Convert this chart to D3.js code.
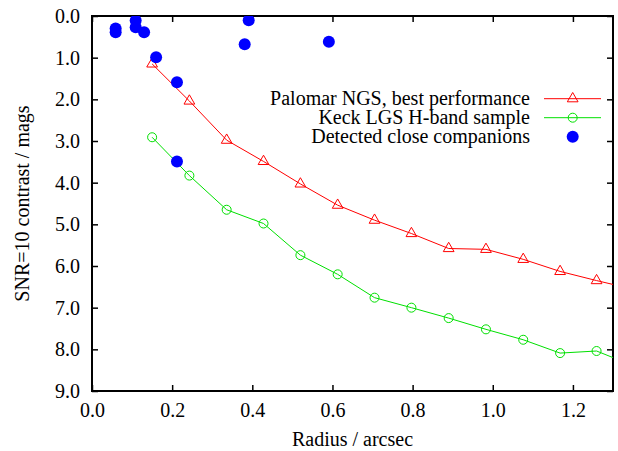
<!DOCTYPE html>
<html>
<head>
<meta charset="utf-8">
<script src="https://cdn.jsdelivr.net/npm/d3@7"></script>
<style>
  body { margin: 0; background: #fff; }
  text { font-family: 'Liberation Serif', 'Times New Roman', serif; fill: #000; }
</style>
</head>
<body>
<div id="chart"></div>
<script>
// Palomar NGS, best performance
const palomarRadius = [0.150, 0.243, 0.336, 0.428, 0.520, 0.613, 0.705, 0.797, 0.890, 0.983, 1.076, 1.168, 1.259, 1.352];
const palomarContrast = [1.15, 2.04, 2.98, 3.49, 4.03, 4.54, 4.90, 5.22, 5.58, 5.60, 5.84, 6.13, 6.35, 6.56];

// Keck LGS H-band sample
const keckRadius = [0.150, 0.243, 0.336, 0.428, 0.520, 0.613, 0.705, 0.797, 0.890, 0.983, 1.076, 1.168, 1.259, 1.352];
const keckContrast = [2.91, 3.83, 4.65, 4.98, 5.74, 6.20, 6.76, 7.00, 7.25, 7.52, 7.77, 8.09, 8.04, 8.40];

// Detected close companions
const compRadius = [0.059, 0.059, 0.109, 0.109, 0.130, 0.160, 0.212, 0.212, 0.381, 0.391, 0.591];
const compContrast = [0.30, 0.39, 0.11, 0.27, 0.39, 0.99, 1.59, 3.49, 0.68, 0.10, 0.62];

const xTicks = [0.0, 0.2, 0.4, 0.6, 0.8, 1.0, 1.2];
const yTicks = [0, 1, 2, 3, 4, 5, 6, 7, 8, 9];

const width = 618, height = 451;
const margin = { left: 92, right: 5, top: 16, bottom: 60 };

const x = d3.scaleLinear().domain([0, 1.3]).range([margin.left, width - margin.right]);
const y = d3.scaleLinear().domain([0, 9]).range([margin.top, height - margin.bottom]);

const svg = d3.select('#chart').append('svg')
  .attr('width', width)
  .attr('height', height);

svg.append('defs').append('clipPath').attr('id', 'clip')
  .append('rect')
  .attr('x', x(0)).attr('y', y(0))
  .attr('width', x(1.3) - x(0)).attr('height', y(9) - y(0));

const fontSize = 20;

// axes
svg.append('g')
  .attr('transform', `translate(0,${y(9)})`)
  .call(d3.axisBottom(x).tickValues(xTicks).tickFormat(d3.format('.1f')).tickSizeInner(-6).tickSizeOuter(0).tickPadding(12))
  .call(g => g.select('.domain').remove())
  .call(g => g.selectAll('line').attr('stroke-width', 1.5))
  .call(g => g.selectAll('text').attr('font-size', fontSize).style('font-family', 'Liberation Serif'));

svg.append('g')
  .attr('transform', `translate(0,${y(0)})`)
  .call(d3.axisTop(x).tickValues(xTicks).tickFormat('').tickSizeInner(-6).tickSizeOuter(0))
  .call(g => g.select('.domain').remove())
  .call(g => g.selectAll('line').attr('stroke-width', 1.5));

svg.append('g')
  .attr('transform', `translate(${x(0)},0)`)
  .call(d3.axisLeft(y).tickValues(yTicks).tickFormat(d3.format('.1f')).tickSizeInner(-6).tickSizeOuter(0).tickPadding(12))
  .call(g => g.select('.domain').remove())
  .call(g => g.selectAll('line').attr('stroke-width', 1.5))
  .call(g => g.selectAll('text').attr('font-size', fontSize).style('font-family', 'Liberation Serif'));

svg.append('g')
  .attr('transform', `translate(${x(1.3)},0)`)
  .call(d3.axisRight(y).tickValues(yTicks).tickFormat('').tickSizeInner(-6).tickSizeOuter(0))
  .call(g => g.select('.domain').remove())
  .call(g => g.selectAll('line').attr('stroke-width', 1.5));

svg.append('rect')
  .attr('x', x(0)).attr('y', y(0))
  .attr('width', x(1.3) - x(0)).attr('height', y(9) - y(0))
  .attr('fill', 'none')
  .attr('stroke', '#000')
  .attr('stroke-width', 2);

// axis labels
svg.append('text')
  .attr('x', (x(0) + x(1.3)) / 2)
  .attr('y', 446)
  .attr('text-anchor', 'middle')
  .attr('font-size', fontSize)
  .text('Radius / arcsec');

svg.append('text')
  .attr('transform', `translate(29,${(y(0) + y(9)) / 2}) rotate(-90)`)
  .attr('text-anchor', 'middle')
  .attr('font-size', fontSize)
  .text('SNR=10 contrast / mags');

const line = d3.line().x(d => x(d[0])).y(d => y(d[1]));
const plot = svg.append('g').attr('clip-path', 'url(#clip)');

const palomar = palomarRadius.map((r, i) => [r, palomarContrast[i]]);
const keck = keckRadius.map((r, i) => [r, keckContrast[i]]);
const comps = compRadius.map((r, i) => [r, compContrast[i]]);

const red = '#ff0000', green = '#00e000', blue = '#0000ff';
const tri = d3.symbol().type(d3.symbolTriangle).size(50);

plot.append('path').attr('d', line(palomar)).attr('fill', 'none').attr('stroke', red).attr('stroke-width', 1);
plot.selectAll('.tri').data(palomar).enter().append('path')
  .attr('class', 'tri')
  .attr('d', tri)
  .attr('transform', d => `translate(${x(d[0])},${y(d[1])})`)
  .attr('fill', 'none').attr('stroke', red).attr('stroke-width', 1);

plot.append('path').attr('d', line(keck)).attr('fill', 'none').attr('stroke', green).attr('stroke-width', 1);
plot.selectAll('.circ').data(keck).enter().append('circle')
  .attr('class', 'circ')
  .attr('cx', d => x(d[0])).attr('cy', d => y(d[1])).attr('r', 4.5)
  .attr('fill', 'none').attr('stroke', green).attr('stroke-width', 1);

plot.selectAll('.dot').data(comps).enter().append('circle')
  .attr('class', 'dot')
  .attr('cx', d => x(d[0])).attr('cy', d => y(d[1])).attr('r', 6)
  .attr('fill', blue);

// legend
const legend = [
  { label: 'Palomar NGS, best performance', type: 'tri', color: red },
  { label: 'Keck LGS H-band sample', type: 'circ', color: green },
  { label: 'Detected close companions', type: 'dot', color: blue }
];
const lg = svg.append('g');
legend.forEach((d, i) => {
  const cy = 98.7 + i * 19;
  lg.append('text')
    .attr('x', 530).attr('y', cy).attr('dy', '0.33em')
    .attr('text-anchor', 'end')
    .attr('font-size', fontSize)
    .text(d.label);
  if (d.type !== 'dot') {
    lg.append('line').attr('x1', 544).attr('x2', 601).attr('y1', cy).attr('y2', cy)
      .attr('stroke', d.color).attr('stroke-width', 1);
  }
  if (d.type === 'tri') {
    lg.append('path').attr('d', tri).attr('transform', `translate(572.7,${cy})`)
      .attr('fill', 'none').attr('stroke', d.color);
  } else if (d.type === 'circ') {
    lg.append('circle').attr('cx', 572.7).attr('cy', cy).attr('r', 4.5)
      .attr('fill', 'none').attr('stroke', d.color);
  } else {
    lg.append('circle').attr('cx', 572.7).attr('cy', cy).attr('r', 6).attr('fill', d.color);
  }
});
</script>
</body>
</html>
